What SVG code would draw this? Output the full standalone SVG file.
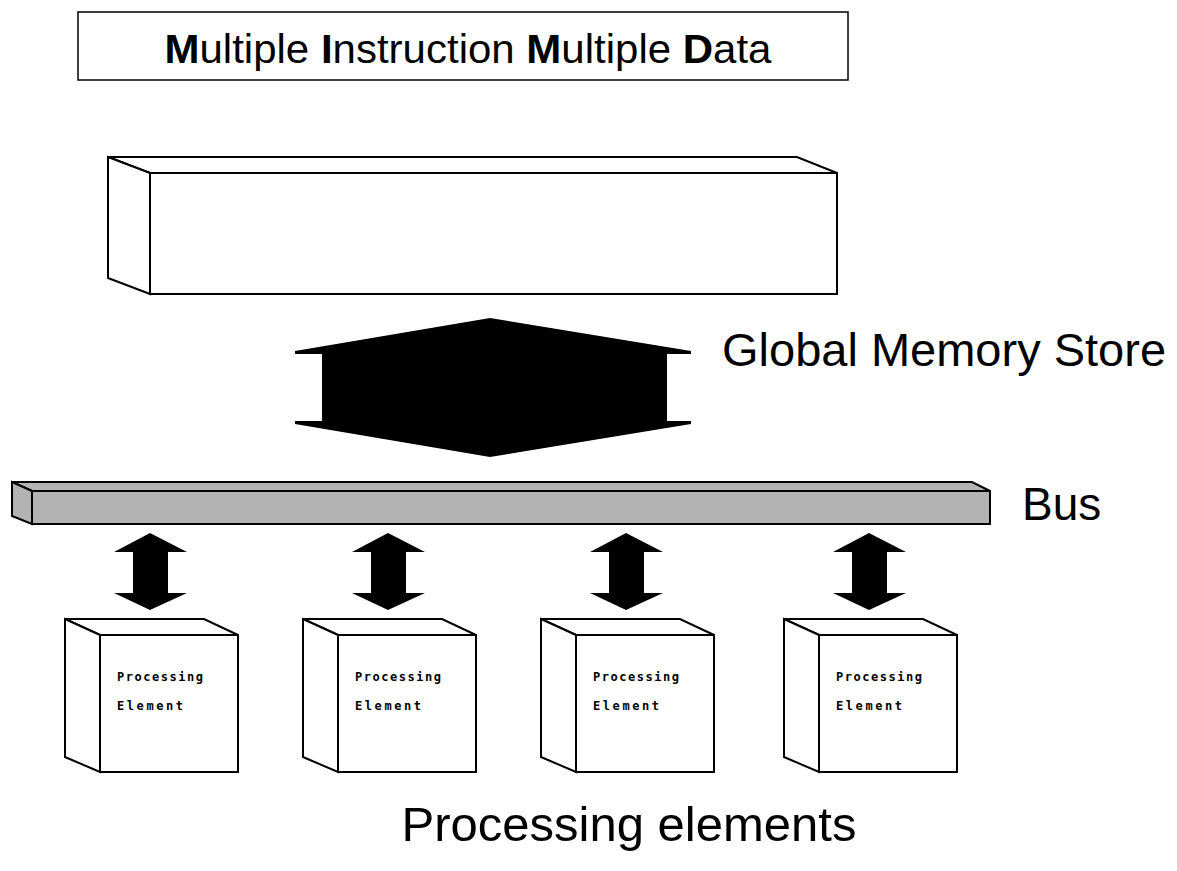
<svg xmlns="http://www.w3.org/2000/svg" width="1177" height="871" viewBox="0 0 1177 871">
<style>
.lbl{font-family:"Liberation Sans",Arial,sans-serif;fill:#000}
.box{fill:#fff;stroke:#000;stroke-width:2;stroke-linejoin:miter}
.bus{fill:#b3b3b3;stroke:#000;stroke-width:2}
.arr{fill:#000;stroke:none}
.pe{font-family:"DejaVu Sans Mono","Liberation Mono",monospace;font-size:12px;font-weight:bold;fill:#000}
</style>
<rect width="1177" height="871" fill="#fff"/>
<g id="title">
<rect x="78" y="12" width="770" height="68" fill="#fff" stroke="#000" stroke-width="1.5"/>
<text class="lbl" x="468" y="63" font-size="41" text-anchor="middle" textLength="607" lengthAdjust="spacingAndGlyphs"><tspan font-weight="bold">M</tspan>ultiple <tspan font-weight="bold">I</tspan>nstruction <tspan font-weight="bold">M</tspan>ultiple <tspan font-weight="bold">D</tspan>ata</text>
</g>
<g id="memory">
<polygon class="box" points="108,157 797,157 837,173 150,173"/>
<polygon class="box" points="108,157 150,173 150,294 108,278"/>
<rect class="box" x="150" y="173" width="687" height="121"/>
</g>
<g id="memory-label"><text class="lbl" x="722" y="366" font-size="47">Global Memory Store</text></g>
<g id="bus">
<polygon class="bus" points="12,482 972,482 990,491 32,491"/>
<polygon class="bus" points="12,482 32,491 32,524 12,516"/>
<rect class="bus" x="32" y="491" width="958" height="33"/>
</g>
<g id="bus-label"><text class="lbl" x="1022" y="520" font-size="46">Bus</text></g>
<g id="connectors">
<polygon class="arr" points="295,351 490,318 691,351 691,354 667,354 667,421 691,421 691,424 490,457 295,424 295,421 322,421 322,354 295,354"/>
<polygon class="arr" points="150,533 187,552 168,552 168,593 187,593 150,610 114,593 133,593 133,552 114,552"/>
<polygon class="arr" points="388,533 425,552 406,552 406,593 425,593 388,610 352,593 371,593 371,552 352,552"/>
<polygon class="arr" points="626,533 663,552 644,552 644,593 663,593 626,610 590,593 609,593 609,552 590,552"/>
<polygon class="arr" points="869,533 906,552 887,552 887,593 906,593 869,610 833,593 852,593 852,552 833,552"/>
</g>
<g id="pe1">
<polygon class="box" points="65,619 204,619 238,635 100,635"/>
<polygon class="box" points="65,619 100,635 100,772 65,757"/>
<rect class="box" x="100" y="635" width="138" height="137"/>
<text class="pe" x="117" y="681" textLength="86" lengthAdjust="spacing">Processing</text>
<text class="pe" x="117" y="710" textLength="66" lengthAdjust="spacing">Element</text>
</g>
<g id="pe2">
<polygon class="box" points="303,619 442,619 476,635 338,635"/>
<polygon class="box" points="303,619 338,635 338,772 303,757"/>
<rect class="box" x="338" y="635" width="138" height="137"/>
<text class="pe" x="355" y="681" textLength="86" lengthAdjust="spacing">Processing</text>
<text class="pe" x="355" y="710" textLength="66" lengthAdjust="spacing">Element</text>
</g>
<g id="pe3">
<polygon class="box" points="541,619 680,619 714,635 576,635"/>
<polygon class="box" points="541,619 576,635 576,772 541,757"/>
<rect class="box" x="576" y="635" width="138" height="137"/>
<text class="pe" x="593" y="681" textLength="86" lengthAdjust="spacing">Processing</text>
<text class="pe" x="593" y="710" textLength="66" lengthAdjust="spacing">Element</text>
</g>
<g id="pe4">
<polygon class="box" points="784,619 923,619 957,635 819,635"/>
<polygon class="box" points="784,619 819,635 819,772 784,757"/>
<rect class="box" x="819" y="635" width="138" height="137"/>
<text class="pe" x="836" y="681" textLength="86" lengthAdjust="spacing">Processing</text>
<text class="pe" x="836" y="710" textLength="66" lengthAdjust="spacing">Element</text>
</g>
<g id="pe-label"><text class="lbl" x="629" y="841" font-size="49" text-anchor="middle">Processing elements</text></g>
</svg>
